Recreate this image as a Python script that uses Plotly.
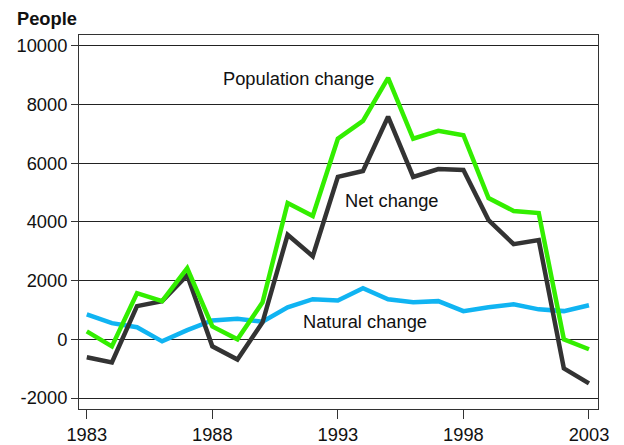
import plotly.graph_objects as go

years = list(range(1983, 2004))
population_change = [270, -240, 1570, 1300, 2420, 440, 0, 1260, 4640, 4200, 6830, 7440, 8900, 6830, 7100, 6950, 4810, 4370, 4300, 0, -340]
net_change = [-610, -790, 1130, 1300, 2180, -240, -690, 580, 3560, 2830, 5530, 5730, 7580, 5530, 5800, 5770, 4060, 3240, 3380, -990, -1500]
natural_change = [850, 550, 410, -70, 310, 640, 700, 600, 1090, 1365, 1320, 1740, 1365, 1260, 1300, 960, 1090, 1190, 1020, 960, 1160]

y_ticks = [-2000, 0, 2000, 4000, 6000, 8000, 10000]
x_ticks = [1983, 1988, 1993, 1998, 2003]

FONT = "Liberation Sans, Arial, sans-serif"
FS = 18.3
OFF = 8  # page body margin

fig = go.Figure()
fig.add_trace(go.Scatter(x=years, y=natural_change, mode="lines", name="Natural change",
                         line=dict(color="#10B4F2", width=4.5)))
fig.add_trace(go.Scatter(x=years, y=net_change, mode="lines", name="Net change",
                         line=dict(color="#333333", width=4.5)))
fig.add_trace(go.Scatter(x=years, y=population_change, mode="lines", name="Population change",
                         line=dict(color="#33EE00", width=4.5)))

fig.update_layout(
    width=624 - OFF, height=445 - OFF,
    margin=dict(l=79 - OFF, r=26, t=35 - OFF, b=36),
    plot_bgcolor="white", paper_bgcolor="white",
    showlegend=False,
    font=dict(family=FONT, size=FS, color="#111111"),
    xaxis=dict(range=[1982.69, 2003.36], tickvals=x_ticks, ticktext=[str(v) for v in x_ticks],
               showgrid=False, zeroline=False, showline=True, mirror=True, automargin=False,
               linecolor="#333333", linewidth=1, ticks="outside", ticklen=9,
               tickcolor="#333333", tickfont=dict(size=FS)),
    yaxis=dict(range=[-2374, 10364], tickvals=y_ticks, ticktext=[str(v) for v in y_ticks],
               showgrid=True, gridcolor="#222222", gridwidth=1, zeroline=False, automargin=False,
               showline=True, mirror=True, linecolor="#333333", linewidth=1,
               ticks="outside", ticklen=7, tickcolor="#333333", tickfont=dict(size=FS)),
)

fig.add_annotation(text="<b>People</b>", xref="paper", yref="paper", x=(15 - 79) / 519, y=1 + 17 / 374,
                   xanchor="left", yanchor="middle", showarrow=False, font=dict(size=FS))
fig.add_annotation(text="Population change", x=1990.0 + (299 - 263) / 25.1, y=8880, xref="x", yref="y",
                   showarrow=False, font=dict(size=FS))
fig.add_annotation(text="Net change", x=1995.15, y=4740, showarrow=False, font=dict(size=FS))
fig.add_annotation(text="Natural change", x=1994.1, y=620, showarrow=False, font=dict(size=FS))

fig.write_html("out.html")
